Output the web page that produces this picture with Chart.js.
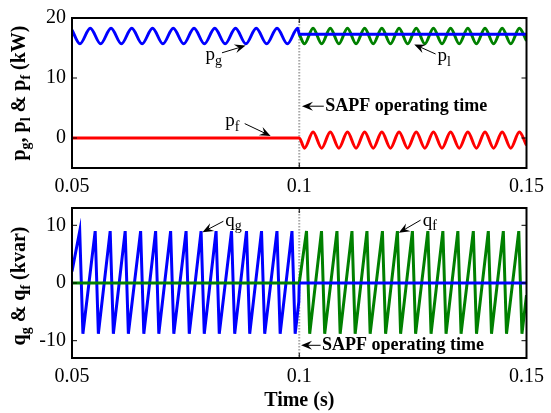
<!DOCTYPE html>
<html lang="en">
<head>
<meta charset="UTF-8">
<title>SAPF active and reactive power</title>
<style>
  body { margin: 0; background: #fff; }
  #wrap { position: relative; width: 551px; height: 413px; }
  #topChart { position: absolute; left: 0; top: 0; }
  #botChart { position: absolute; left: 0; top: 190px; }
</style>
</head>
<body>
<div id="wrap">
  <canvas id="topChart" width="551" height="200"></canvas>
  <canvas id="botChart" width="551" height="223"></canvas>
</div>
<script src="https://cdn.jsdelivr.net/npm/chart.js"></script>
<script>
// tick labels
const xTicks = [0.05, 0.1, 0.15];
const pTicks = [0, 10, 20];
const qTicks = [-10, 0, 10];

// grid power p_g (kW): ripple until the filter starts, then flat
const pgTime = [0.05, 0.05174, 0.05402, 0.0563, 0.05859, 0.06087, 0.06315, 0.06543, 0.06772, 0.07, 0.07228,
  0.07457, 0.07685, 0.07913, 0.08141, 0.0837, 0.08598, 0.08826, 0.09054, 0.09283, 0.09511, 0.09739, 0.09967, 0.1, 0.15];
const pgVal = [18.0, 15.7, 18.3, 15.7, 18.3, 15.7, 18.3, 15.7, 18.3, 15.7, 18.3,
  15.7, 18.3, 15.7, 18.3, 15.7, 18.3, 15.7, 18.3, 15.7, 18.3, 15.7, 18.3, 17.3, 17.3];

// load power p_l (kW), visible after 0.1 s
const plTime = [0.1, 0.10115, 0.10304, 0.10493, 0.10683, 0.10872, 0.11061, 0.1125, 0.11439, 0.11628, 0.11817,
  0.12007, 0.12196, 0.12385, 0.12574, 0.12763, 0.12952, 0.13141, 0.1333, 0.1352, 0.13709, 0.13898, 0.14087,
  0.14276, 0.14465, 0.14654, 0.14843, 0.15];
const plVal = [17.3, 15.7, 18.3, 15.7, 18.3, 15.7, 18.3, 15.7, 18.3, 15.7, 18.3,
  15.7, 18.3, 15.7, 18.3, 15.7, 18.3, 15.7, 18.3, 15.7, 18.3, 15.7, 18.3,
  15.7, 18.3, 15.7, 18.3, 16.2];

// filter power p_f (kW)
const pfTime = [0.05, 0.1, 0.10115, 0.10304, 0.10493, 0.10683, 0.10872, 0.11061, 0.1125, 0.11439, 0.11628, 0.11817,
  0.12007, 0.12196, 0.12385, 0.12574, 0.12763, 0.12952, 0.13141, 0.1333, 0.1352, 0.13709, 0.13898, 0.14087,
  0.14276, 0.14465, 0.14654, 0.14843, 0.15];
const pfVal = [0, 0, -1.7, 1.0, -1.7, 1.0, -1.7, 1.0, -1.7, 1.0, -1.7, 1.0,
  -1.7, 1.0, -1.7, 1.0, -1.7, 1.0, -1.7, 1.0, -1.7, 1.0, -1.7, 1.0,
  -1.7, 1.0, -1.7, 1.0, -1.2];

// grid reactive power q_g (kvar)
const qgTime = [0.05, 0.0517, 0.0524, 0.0551, 0.0558, 0.0584, 0.0591, 0.0617, 0.0624, 0.0651, 0.0658, 0.0684, 0.0691,
  0.0717, 0.0724, 0.0751, 0.0758, 0.0784, 0.0791, 0.0817, 0.0824, 0.0851, 0.0858, 0.0884, 0.0891, 0.0917, 0.0924,
  0.0951, 0.0958, 0.0984, 0.0991, 0.0999, 0.1, 0.15];
const qgVal = [2.0, 9.0, -8.8, 9.0, -8.8, 9.0, -8.8, 9.0, -8.8, 9.0, -8.8, 9.0, -8.8,
  9.0, -8.8, 9.0, -8.8, 9.0, -8.8, 9.0, -8.8, 9.0, -8.8, 9.0, -8.8, 9.0, -8.8,
  9.0, -8.8, 9.0, -8.8, -3.3, 0, 0];

// filter reactive power q_f (kvar)
const qfTime = [0.05, 0.1, 0.1016, 0.1023, 0.1049, 0.1056, 0.1083, 0.109, 0.1116, 0.1123, 0.1149, 0.1156, 0.1183,
  0.119, 0.1216, 0.1223, 0.1249, 0.1256, 0.1283, 0.129, 0.1316, 0.1323, 0.1349, 0.1356, 0.1383, 0.139, 0.1416,
  0.1423, 0.1449, 0.1456, 0.1483, 0.149, 0.15];
const qfVal = [0, 0, 9.0, -8.8, 9.0, -8.8, 9.0, -8.8, 9.0, -8.8, 9.0, -8.8, 9.0,
  -8.8, 9.0, -8.8, 9.0, -8.8, 9.0, -8.8, 9.0, -8.8, 9.0, -8.8, 9.0, -8.8, 9.0,
  -8.8, 9.0, -8.8, 9.0, -8.8, -2.1];

const switchTime = 0.1;

const SERIF = "'Liberation Serif', 'Times New Roman', serif";
const BLUE = '#0000ff', GREEN = '#008000', RED = '#ff0000';

const pts = (t, v) => t.map((x, i) => ({ x: x, y: v[i] }));
const upTo = (arr, lim) => arr.filter(p => p.x <= lim);
const from = (arr, lim) => arr.filter(p => p.x >= lim);

// text with subscripts, parts = [[text, isSub], ...]
function drawParts(ctx, parts, x, y, size, bold, measureOnly) {
  let cx = x;
  for (const [s, sub] of parts) {
    const fs = sub ? Math.round(size * 0.72) : size;
    ctx.font = (bold ? 'bold ' : '') + fs + 'px ' + SERIF;
    if (!measureOnly) ctx.fillText(s, cx, sub ? y + size * 0.32 : y);
    cx += ctx.measureText(s).width;
  }
  return cx - x;
}

function arrow(ctx, x1, y1, x2, y2) {
  const a = Math.atan2(y2 - y1, x2 - x1);
  const c = Math.cos(a), s = Math.sin(a);
  ctx.beginPath();
  ctx.moveTo(x1, y1);
  ctx.lineTo(x2 - 6 * c, y2 - 6 * s);
  ctx.stroke();
  ctx.beginPath();
  ctx.moveTo(x2, y2);
  ctx.lineTo(x2 - 11 * c + 4.5 * s, y2 - 11 * s - 4.5 * c);
  ctx.lineTo(x2 - 7 * c, y2 - 7 * s);
  ctx.lineTo(x2 - 11 * c - 4.5 * s, y2 - 11 * s + 4.5 * c);
  ctx.closePath();
  ctx.fill();
}

// frame, inward ticks, switching line, y title and callouts
function makeDeco(cfg) {
  return {
    id: 'deco',
    beforeDatasetsDraw(chart) {
      const { ctx, chartArea: a, scales: { x } } = chart;
      const px = x.getPixelForValue(switchTime);
      ctx.save();
      ctx.strokeStyle = '#a8a8a8';
      ctx.lineWidth = 2;
      ctx.setLineDash([1.5, 1.5]);
      ctx.beginPath();
      ctx.moveTo(px, a.top);
      ctx.lineTo(px, a.bottom);
      ctx.stroke();
      ctx.restore();
    },
    afterDraw(chart) {
      const { ctx, chartArea: a, scales: { x, y } } = chart;
      ctx.save();
      ctx.strokeStyle = '#000';
      ctx.fillStyle = '#000';
      ctx.lineWidth = 1;
      const seg = (x1, y1, x2, y2) => { ctx.beginPath(); ctx.moveTo(x1, y1); ctx.lineTo(x2, y2); ctx.stroke(); };
      y.ticks.forEach(t => {
        const py = y.getPixelForValue(t.value);
        seg(a.left, py, a.left + 5, py);
        seg(a.right, py, a.right - 5, py);
      });
      x.ticks.forEach(t => {
        const px = x.getPixelForValue(t.value);
        seg(px, a.bottom, px, a.bottom - 5);
        seg(px, a.top, px, a.top + 5);
      });
      ctx.lineWidth = 2;
      ctx.strokeRect(a.left, a.top, a.right - a.left, a.bottom - a.top);

      // rotated y title
      ctx.textBaseline = 'middle';
      ctx.textAlign = 'left';
      ctx.save();
      ctx.translate(cfg.titleX, (a.top + a.bottom) / 2 + cfg.titleShift);
      ctx.rotate(-Math.PI / 2);
      const w = drawParts(ctx, cfg.title, 0, 0, 20, true, true);
      drawParts(ctx, cfg.title, -w / 2, 0, 20, true);
      ctx.restore();

      // callouts
      ctx.lineWidth = 1;
      cfg.notes.forEach(n => {
        arrow(ctx, x.getPixelForValue(n.tail[0]), y.getPixelForValue(n.tail[1]),
          x.getPixelForValue(n.tip[0]), y.getPixelForValue(n.tip[1]));
        drawParts(ctx, n.parts, x.getPixelForValue(n.at[0]), y.getPixelForValue(n.at[1]), n.size, n.bold);
      });
      ctx.restore();
    }
  };
}

function makeChart(id, datasets, yMin, yMax, yTicks, padTop, xHeight, xTitle, cfg) {
  return new Chart(document.getElementById(id), {
    type: 'line',
    data: { datasets: datasets },
    options: {
      responsive: false,
      animation: false,
      layout: { padding: { top: padTop, right: 18, bottom: 0, left: 0 } },
      plugins: { legend: { display: false }, tooltip: { enabled: false } },
      elements: { point: { radius: 0 }, line: { borderWidth: 3 } },
      scales: {
        x: {
          type: 'linear', min: 0.05, max: 0.15,
          afterBuildTicks: s => { s.ticks = xTicks.map(v => ({ value: v })); },
          afterFit: s => { s.height = xHeight; },
          grid: { display: false, drawTicks: false },
          border: { display: false },
          ticks: { color: '#000', padding: 7, maxRotation: 0, font: { family: SERIF, size: 20 }, callback: v => String(v) },
          title: { display: !!xTitle, text: xTitle, color: '#000', padding: { top: 0, bottom: 0 },
            font: { family: SERIF, size: 20, weight: 'bold' } }
        },
        y: {
          min: yMin, max: yMax,
          afterBuildTicks: s => { s.ticks = yTicks.map(v => ({ value: v })); },
          afterFit: s => { s.width = 72; },
          grid: { display: false, drawTicks: false },
          border: { display: false },
          ticks: { color: '#000', padding: 6, font: { family: SERIF, size: 20 }, callback: v => String(v) }
        }
      }
    },
    plugins: [makeDeco(cfg)]
  });
}

const smooth = { cubicInterpolationMode: 'monotone', fill: false };

makeChart('topChart', [
  { label: 'pg', data: pts(pgTime, pgVal), borderColor: BLUE, ...smooth },
  { label: 'pf', data: pts(pfTime, pfVal), borderColor: RED, ...smooth },
  { label: 'pl', data: pts(plTime, plVal), borderColor: GREEN, ...smooth }
], -5, 20, pTicks, 18, 32, '', {
  titleX: 20, titleShift: 0,
  title: [['p', 0], ['g', 1], [', p', 0], ['l', 1], [' & p', 0], ['f', 1], [' (kW)', 0]],
  notes: [
    { parts: [['p', 0], ['g', 1]], at: [0.0794, 13.8], tail: [0.0830, 14.2], tip: [0.0882, 15.4], size: 19 },
    { parts: [['p', 0], ['l', 1]], at: [0.1304, 13.6], tail: [0.1300, 14.0], tip: [0.1253, 15.6], size: 19 },
    { parts: [['p', 0], ['f', 1]], at: [0.0837, 2.8], tail: [0.0880, 2.4], tip: [0.0937, 0.35], size: 19 },
    { parts: [['SAPF operating time', 0]], at: [0.1057, 5.3], tail: [0.1054, 5.3], tip: [0.1006, 5.3], size: 18, bold: true }
  ]
});

const qg = pts(qgTime, qgVal);
const qf = pts(qfTime, qfVal);

makeChart('botChart', [
  { label: 'qf', data: upTo(qf, switchTime), borderColor: GREEN, tension: 0 },
  { label: 'qg', data: from(qg, switchTime), borderColor: BLUE, tension: 0 },
  { label: 'qg', data: upTo(qg, switchTime), borderColor: BLUE, tension: 0 },
  { label: 'qf', data: from(qf, switchTime), borderColor: GREEN, tension: 0 }
], -13, 13, qTicks, 16, 55, 'Time (s)', {
  titleX: 20, titleShift: 3,
  title: [['q', 0], ['g', 1], [' & q', 0], ['f', 1], [' (kvar)', 0]],
  notes: [
    { parts: [['q', 0], ['g', 1]], at: [0.0837, 10.8], tail: [0.0833, 10.7], tip: [0.0787, 8.8], size: 19 },
    { parts: [['q', 0], ['f', 1]], at: [0.1272, 10.8], tail: [0.1267, 10.9], tip: [0.1219, 8.7], size: 19 },
    { parts: [['SAPF operating time', 0]], at: [0.1050, -10.8], tail: [0.1047, -10.8], tip: [0.1004, -10.8], size: 18, bold: true }
  ]
});
</script>
</body>
</html>
